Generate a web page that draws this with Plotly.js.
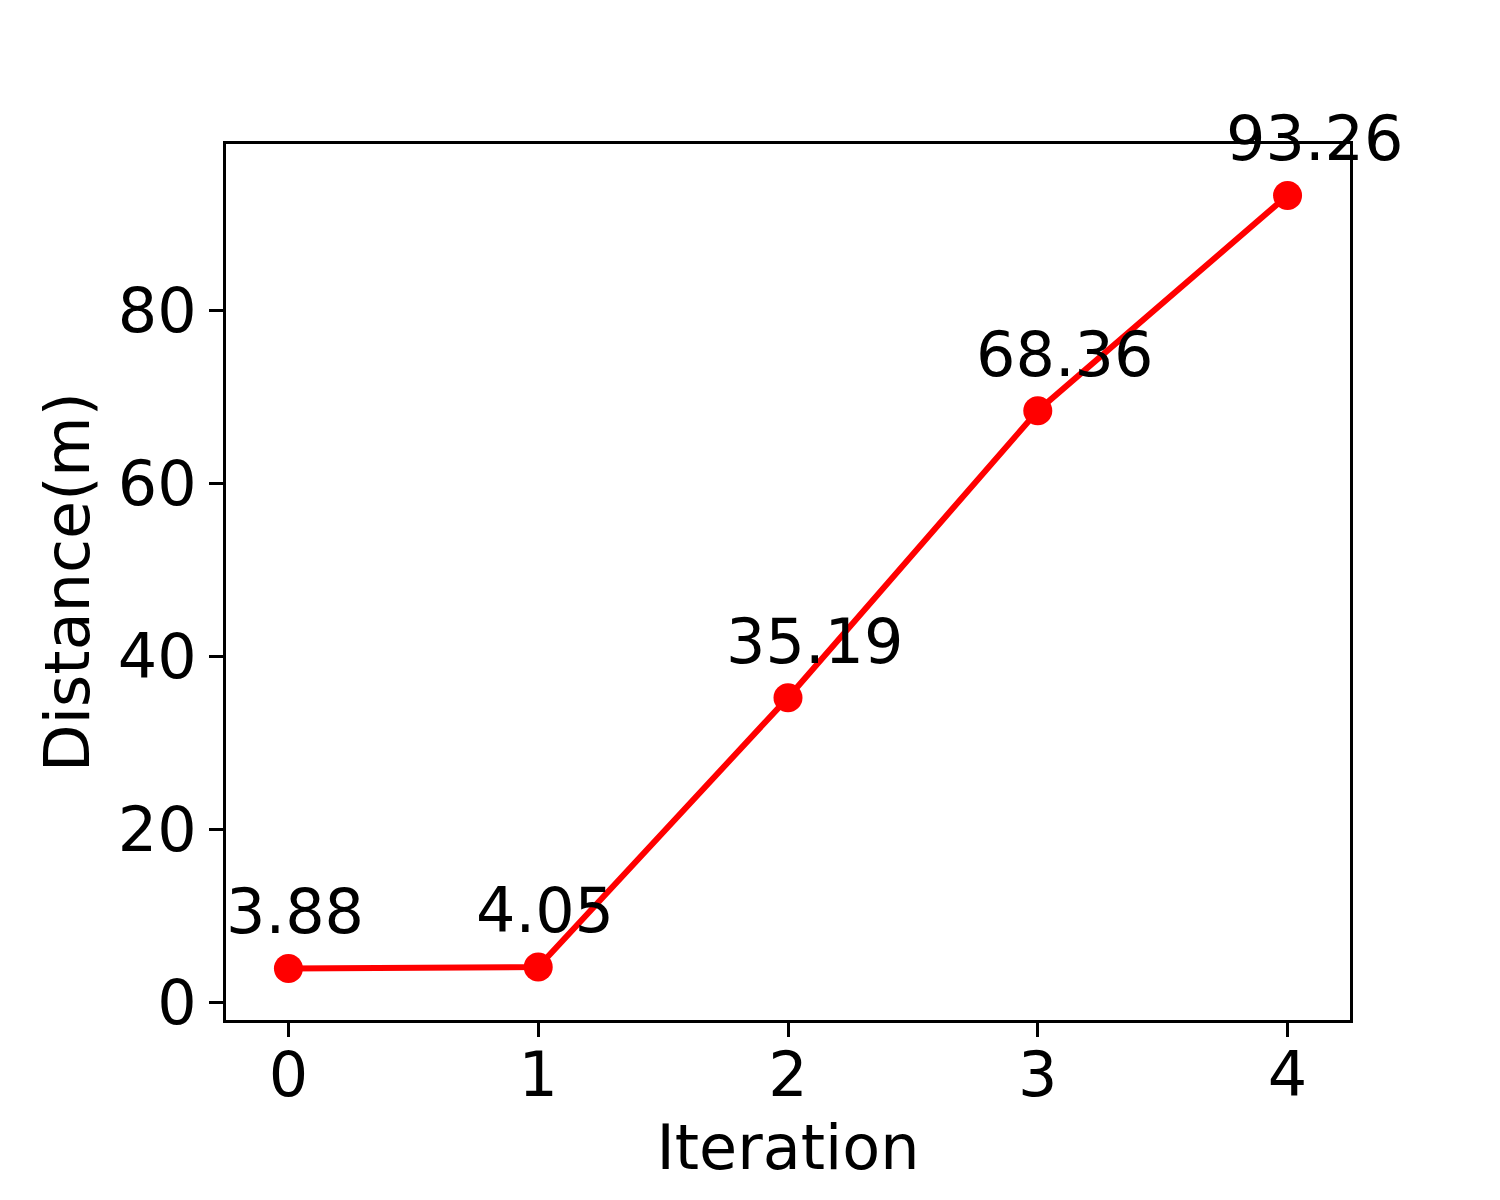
<!DOCTYPE html>
<html>
<head>
<meta charset="utf-8">
<script src="https://cdn.plot.ly/plotly-3.0.1.min.js"></script>
<style>html,body{margin:0;padding:0;background:#fff;}#chart{width:1500px;height:1200px;}</style>
</head>
<body>
<div id="chart"></div>
<script>
const iterations = [0, 1, 2, 3, 4];
const distances = [3.88, 4.05, 35.19, 68.36, 93.26];
const yTicks = [0, 20, 40, 60, 80];
const xTitle = "Iteration";
const yTitle = "Distance(m)";

const FONT = "DejaVu Sans, sans-serif";
const FS = 62;

const trace = {
  x: iterations,
  y: distances,
  mode: "lines+markers",
  line: {color: "#ff0000", width: 6},
  marker: {color: "#ff0000", size: 29},
  cliponaxis: false,
  hoverinfo: "skip"
};

const annotations = iterations.map((x, i) => ({
  x: x, y: distances[i], xref: "x", yref: "y",
  text: distances[i].toFixed(2),
  showarrow: false,
  xanchor: "left", yanchor: "bottom",
  xshift: -64, yshift: 18,
  font: {family: FONT, size: FS, color: "#000"}
}));

const axisCommon = {
  showgrid: false, zeroline: false,
  showline: true, mirror: true, linecolor: "#000", linewidth: 3,
  ticks: "outside", ticklen: 14, tickwidth: 3, tickcolor: "#000",
  tickfont: {family: FONT, size: FS, color: "#000"}
};

const layout = {
  width: 1500, height: 1200,
  margin: {l: 226, r: 150, t: 144, b: 180},
  paper_bgcolor: "#fff", plot_bgcolor: "#fff",
  showlegend: false,
  font: {family: FONT, color: "#000"},
  xaxis: Object.assign({}, axisCommon, {
    range: [-0.25, 4.25], tickvals: iterations, ticktext: iterations.map(String),
    ticklabelstandoff: -15,
    title: {text: xTitle, font: {family: FONT, size: FS, color: "#000"}, standoff: 10}
  }),
  yaxis: Object.assign({}, axisCommon, {
    range: [-2.08, 99.2], tickvals: yTicks, ticktext: yTicks.map(String),
    title: {text: yTitle, font: {family: FONT, size: FS, color: "#000"}, standoff: 8}
  }),
  annotations: annotations
};

Plotly.newPlot("chart", [trace], layout, {staticPlot: true});
</script>
</body>
</html>
